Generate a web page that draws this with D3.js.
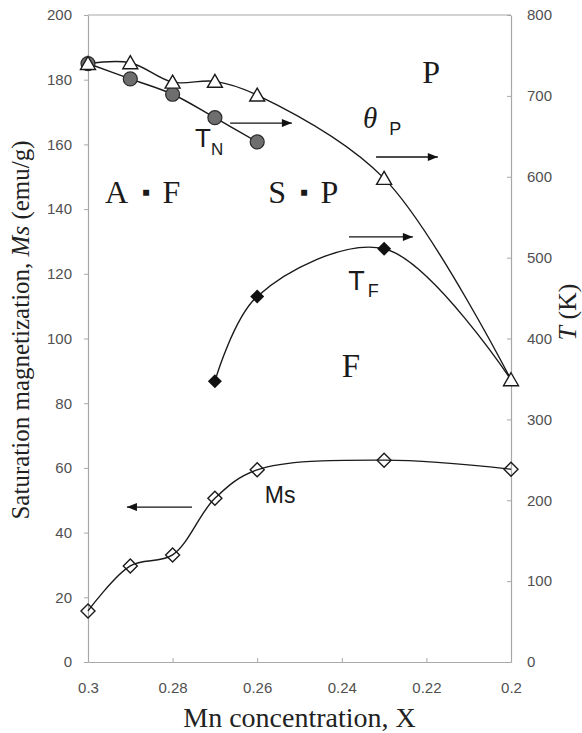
<!DOCTYPE html>
<html>
<head>
<meta charset="utf-8">
<script src="https://cdn.jsdelivr.net/npm/d3@7"></script>
<style>
  body { margin: 0; background: #fff; }
  svg { display: block; }
</style>
</head>
<body>
<svg id="chart"></svg>
<script>
//--------------------------------------------
// DATA
//--------------------------------------------
const xTicks = [0.3, 0.28, 0.26, 0.24, 0.22, 0.2];
const xTickLabels = ["0.3", "0.28", "0.26", "0.24", "0.22", "0.2"];
const msTicks = [0, 20, 40, 60, 80, 100, 120, 140, 160, 180, 200];
const tTicks = [0, 100, 200, 300, 400, 500, 600, 700, 800];

// theta_P (K, right axis) - open triangles
const thetaX = [0.3, 0.29, 0.28, 0.27, 0.26, 0.23, 0.2];
const thetaT = [740, 741, 717, 718, 701, 598, 349];
// T_N (K, right axis) - grey circles
const tnX = [0.3, 0.29, 0.28, 0.27, 0.26];
const tnT = [740, 721, 702, 673, 643];
// T_F (K, right axis) - black diamonds, last point shared with theta_P
const tfX = [0.27, 0.26, 0.23, 0.2];
const tfT = [347, 452, 511, 349];
// Ms (emu/g, left axis) - open diamonds
const msX = [0.3, 0.29, 0.28, 0.27, 0.26, 0.23, 0.2];
const msV = [15.8, 29.7, 33.1, 50.6, 59.4, 62.4, 59.6];

// arrows: [x1, x2, y] in data units (x = Mn, y = left axis)
const arrows = [
  [0.2664, 0.2518, 166.6],  // T_N ->
  [0.2319, 0.2173, 156.1],  // theta_P ->
  [0.2383, 0.2232, 131.4],  // T_F ->
  [0.2754, 0.2908, 47.9]    // Ms <-
];

//--------------------------------------------
// CONFIG
//--------------------------------------------
const width = 582, height = 733;
const plotL = 88, plotR = 511, plotT = 15, plotB = 662;
const axisColor = "#a8a8a8", tickText = "#505050";
const sans = "'Liberation Sans', Arial, sans-serif";
const serif = "'Liberation Serif', 'Times New Roman', serif";

const svg = d3.select("#chart")
  .attr("width", width)
  .attr("height", height)
  .attr("viewBox", [0, 0, width, height]);

const x = d3.scaleLinear([0.3, 0.2], [plotL, plotR]);
const yL = d3.scaleLinear([0, 200], [plotB, plotT]);
const yR = d3.scaleLinear([0, 800], [plotB, plotT]);

svg.append("defs").append("marker")
  .attr("id", "head")
  .attr("markerUnits", "userSpaceOnUse")
  .attr("viewBox", "0 0 10 8")
  .attr("refX", 10).attr("refY", 4)
  .attr("markerWidth", 11).attr("markerHeight", 8)
  .attr("orient", "auto")
  .append("path").attr("d", "M0,0L10,4L0,8Z").attr("fill", "#111");

//--------------------------------------------
// AXES
//--------------------------------------------
function styleAxis(g) {
  g.select(".domain").attr("stroke", axisColor).attr("stroke-width", 1.2);
  g.selectAll(".tick line").attr("stroke", axisColor);
  g.selectAll(".tick text")
    .attr("fill", tickText)
    .style("font", `15px ${sans}`);
}

svg.append("g")
  .attr("transform", `translate(${plotL},0)`)
  .call(d3.axisLeft(yL).tickValues(msTicks).tickSize(4).tickPadding(12).tickSizeOuter(0))
  .call(styleAxis);

svg.append("g")
  .attr("transform", `translate(${plotR},0)`)
  .call(d3.axisRight(yR).tickValues(tTicks).tickSize(-4).tickPadding(16).tickSizeOuter(0))
  .call(styleAxis);

svg.append("g")
  .attr("transform", `translate(0,${plotB})`)
  .call(d3.axisBottom(x).tickValues(xTicks).tickFormat((d, i) => xTickLabels[i])
    .tickSize(-4).tickPadding(20).tickSizeOuter(0))
  .call(styleAxis);

// top frame line
svg.append("line")
  .attr("x1", plotL).attr("x2", plotR).attr("y1", plotT).attr("y2", plotT)
  .attr("stroke", axisColor).attr("stroke-width", 1.2);

// axis titles
svg.append("text")
  .attr("transform", `translate(29,330) rotate(-90)`)
  .attr("text-anchor", "middle")
  .style("font", `25px ${serif}`).attr("fill", "#222")
  .call(t => {
    t.append("tspan").text("Saturation magnetization, ");
    t.append("tspan").style("font-style", "italic").text("Ms");
    t.append("tspan").text(" (emu/g)");
  });

svg.append("text")
  .attr("transform", `translate(576,312) rotate(-90)`)
  .attr("text-anchor", "middle")
  .style("font", `26px ${serif}`).attr("fill", "#222")
  .call(t => {
    t.append("tspan").style("font-style", "italic").text("T");
    t.append("tspan").text(" (K)");
  });

svg.append("text")
  .attr("x", (plotL + plotR) / 2).attr("y", 727)
  .attr("text-anchor", "middle")
  .style("font", `28px ${serif}`).attr("fill", "#222")
  .text("Mn concentration, X");

//--------------------------------------------
// CURVES
//--------------------------------------------
const curve = d3.curveCatmullRom.alpha(0.5);
function drawLine(xs, ys, yScale) {
  const pts = xs.map((d, i) => [x(d), yScale(ys[i])]);
  svg.append("path")
    .attr("d", d3.line().curve(curve)(pts))
    .attr("fill", "none")
    .attr("stroke", "#1a1a1a")
    .attr("stroke-width", 1.4);
  return pts;
}

const tfPts = drawLine(tfX, tfT, yR);
const tnPts = drawLine(tnX, tnT, yR);
const thPts = drawLine(thetaX, thetaT, yR);
const msPts = drawLine(msX, msV, yL);

// markers
svg.append("g").selectAll("circle")
  .data(tnPts).join("circle")
  .attr("cx", d => d[0]).attr("cy", d => d[1]).attr("r", 7)
  .attr("fill", "#6e6e6e").attr("stroke", "#2a2a2a").attr("stroke-width", 1.2);

svg.append("g").selectAll("path")
  .data(tfPts.slice(0, -1)).join("path")
  .attr("transform", d => `translate(${d[0]},${d[1]})`)
  .attr("d", "M0,-7L7,0L0,7L-7,0Z")
  .attr("fill", "#111");

svg.append("g").selectAll("path")
  .data(thPts).join("path")
  .attr("transform", d => `translate(${d[0]},${d[1]})`)
  .attr("d", "M0,-7L7.5,6L-7.5,6Z")
  .attr("fill", "#fff").attr("stroke", "#1a1a1a").attr("stroke-width", 1.4);

svg.append("g").selectAll("path")
  .data(msPts).join("path")
  .attr("transform", d => `translate(${d[0]},${d[1]})`)
  .attr("d", "M0,-7L7,0L0,7L-7,0Z")
  .attr("fill", "none").attr("stroke", "#1a1a1a").attr("stroke-width", 1.4);

//--------------------------------------------
// ANNOTATIONS
//--------------------------------------------
svg.append("g").selectAll("line")
  .data(arrows).join("line")
  .attr("x1", d => x(d[0])).attr("x2", d => x(d[1]))
  .attr("y1", d => yL(d[2])).attr("y2", d => yL(d[2]))
  .attr("stroke", "#111").attr("stroke-width", 1.3)
  .attr("marker-end", "url(#head)");

function label(xv, yv, txt, font) {
  return svg.append("text")
    .attr("x", x(xv)).attr("y", yL(yv))
    .style("font", font).attr("fill", "#1a1a1a")
    .text(txt);
}

// region labels with a small square separator
function pairLabel(xv, yv, a, b) {
  const t = label(xv, yv, a, `32px ${serif}`);
  t.append("tspan").attr("dx", 14).attr("dy", -3).style("font-size", "24px").text("\u25AA");
  t.append("tspan").attr("dx", 12).attr("dy", 3).text(b);
  return t;
}

label(0.2189, 179.0, "P", `32px ${serif}`).attr("text-anchor", "middle");
pairLabel(0.2960, 141.9, "A", "F");
pairLabel(0.2574, 141.9, "S", "P");
label(0.2400, 88.1, "F", `33px ${serif}`);
label(0.2582, 49.1, "Ms", `23px ${sans}`);

label(0.2747, 159.2, "T", `26px ${sans}`)
  .append("tspan").attr("dx", 0).attr("dy", 8)
  .style("font-size", "17px").text("N");

label(0.2385, 115.0, "T", `27px ${sans}`)
  .append("tspan").attr("dx", 3).attr("dy", 7)
  .style("font-size", "18px").text("F");

label(0.2350, 165.1, "\u03B8", `italic 29px ${serif}`)
  .append("tspan").attr("dx", 12).attr("dy", 7)
  .style("font", `18px ${sans}`).text("P");
</script>
</body>
</html>
